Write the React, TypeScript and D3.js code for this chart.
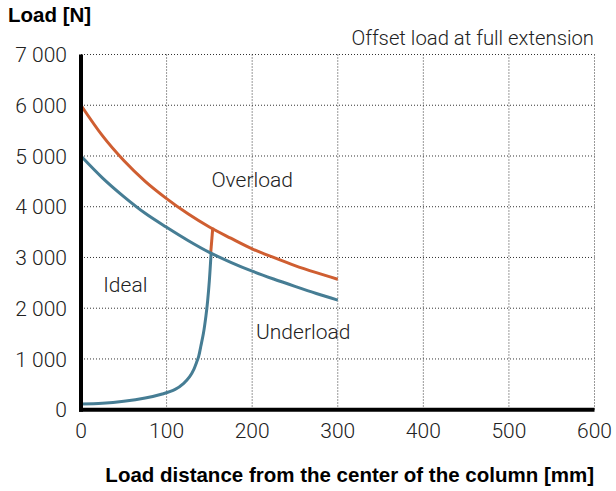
import React from "react";
import * as d3 from "d3";

// Load distance [mm] vs load [N]
const overloadX = [0, 25, 50, 75, 100, 125, 150, 175, 200, 225, 250, 275, 300];
const overloadY = [6000, 5400, 4910, 4500, 4160, 3860, 3600, 3380, 3170, 3000, 2840, 2700, 2570];

const underloadX = [0, 25, 50, 75, 100, 125, 150, 175, 200, 225, 250, 275, 300];
const underloadY = [5000, 4570, 4200, 3870, 3595, 3335, 3100, 2905, 2730, 2575, 2430, 2290, 2160];

const idealX = [0, 25, 50, 75, 95, 110, 120, 127, 132, 135, 137.5, 140, 143, 146, 148, 150, 152];
const idealY = [110, 125, 165, 230, 310, 400, 520, 650, 800, 930, 1050, 1250, 1500, 1850, 2150, 2550, 3080];

// short step from the underload curve up to the overload curve
const stepX = [151.5, 154];
const stepY = [3080, 3590];

const xTicks = [0, 100, 200, 300, 400, 500, 600];
const yTicks = [0, 1000, 2000, 3000, 4000, 5000, 6000, 7000];

const regionLabels = [
  { text: "Overload", x: 200, y: 4390, anchor: "middle" },
  { text: "Ideal", x: 26, y: 2325, anchor: "start" },
  { text: "Underload", x: 204.5, y: 1395, anchor: "start" },
];

const W = 616;
const H = 491;
const lightFont = "Roboto, 'Liberation Sans', Arial, sans-serif";
const boldFont = "'Liberation Sans', Arial, Helvetica, sans-serif";

export default function App() {
  const x = d3.scaleLinear().domain([0, 600]).range([81, 594.5]);
  const y = d3.scaleLinear().domain([0, 7000]).range([409.7, 54.5]);

  const zip = (xs: number[], ys: number[]) =>
    xs.map((v, i) => [v, ys[i]] as [number, number]);

  const line = d3
    .line<[number, number]>()
    .x((d) => x(d[0]))
    .y((d) => y(d[1]))
    .curve(d3.curveMonotoneX);

  const idealLine = d3
    .line<[number, number]>()
    .x((d) => x(d[0]))
    .y((d) => y(d[1]))
    .curve(d3.curveCatmullRom.alpha(0.5));

  const fmt = (v: number) => d3.format(",")(v).replace(/,/g, " ");

  const orange = "#cf5e31";
  const blue = "#467d94";

  return (
    <div style={{ position: "absolute", left: 0, top: 0 }}>
      <svg width={W} height={H} style={{ display: "block", background: "#fff" }}>
        {/* grid */}
        {xTicks.slice(1).map((t) => (
          <line
            key={"gx" + t}
            x1={x(t)}
            x2={x(t)}
            y1={y(7000)}
            y2={y(0)}
            stroke="#333"
            strokeWidth={1}
            strokeDasharray="1 2"
          />
        ))}
        {yTicks.slice(1).map((t) => (
          <line
            key={"gy" + t}
            x1={x(0)}
            x2={x(600)}
            y1={y(t)}
            y2={y(t)}
            stroke="#333"
            strokeWidth={1}
            strokeDasharray="1 2"
          />
        ))}

        {/* curves */}
        <path d={line(zip(overloadX, overloadY)) || ""} fill="none" stroke={orange} strokeWidth={3} />
        <path d={line(zip(stepX, stepY)) || ""} fill="none" stroke={orange} strokeWidth={3} />
        <path d={line(zip(underloadX, underloadY)) || ""} fill="none" stroke={blue} strokeWidth={3} />
        <path d={idealLine(zip(idealX, idealY)) || ""} fill="none" stroke={blue} strokeWidth={3} />

        {/* axes */}
        <line x1={x(0)} x2={x(0)} y1={y(7000)} y2={y(0) + 2} stroke="#000" strokeWidth={4} />
        <line x1={x(0) - 2} x2={x(600)} y1={y(0)} y2={y(0)} stroke="#000" strokeWidth={4} />

        {/* tick labels */}
        {yTicks.map((t) => (
          <text
            key={"yl" + t}
            x={67}
            y={y(t)}
            dy="0.36em"
            textAnchor="end"
            fontFamily={lightFont}
            fontWeight={300}
            fontSize={21}
            fill="#222"
          >
            {fmt(t)}
          </text>
        ))}
        {xTicks.map((t) => (
          <text
            key={"xl" + t}
            x={x(t)}
            y={438}
            textAnchor="middle"
            fontFamily={lightFont}
            fontWeight={300}
            fontSize={21}
            fill="#222"
          >
            {t}
          </text>
        ))}

        {/* region labels */}
        {regionLabels.map((l) => (
          <text
            key={l.text}
            x={x(l.x)}
            y={y(l.y)}
            textAnchor={l.anchor as any}
            fontFamily={lightFont}
            fontWeight={300}
            fontSize={21}
            fill="#222"
          >
            {l.text}
          </text>
        ))}

        <text
          x={594}
          y={45}
          textAnchor="end"
          fontFamily={lightFont}
          fontWeight={300}
          fontSize={20.3}
          fill="#222"
        >
          Offset load at full extension
        </text>

        {/* axis titles */}
        <text x={8} y={22} fontFamily={boldFont} fontWeight={700} fontSize={20.5} fill="#000">
          Load [N]
        </text>
        <text
          x={594}
          y={481.5}
          textAnchor="end"
          fontFamily={boldFont}
          fontWeight={700}
          fontSize={20.5}
          fill="#000"
        >
          Load distance from the center of the column [mm]
        </text>
      </svg>
    </div>
  );
}
